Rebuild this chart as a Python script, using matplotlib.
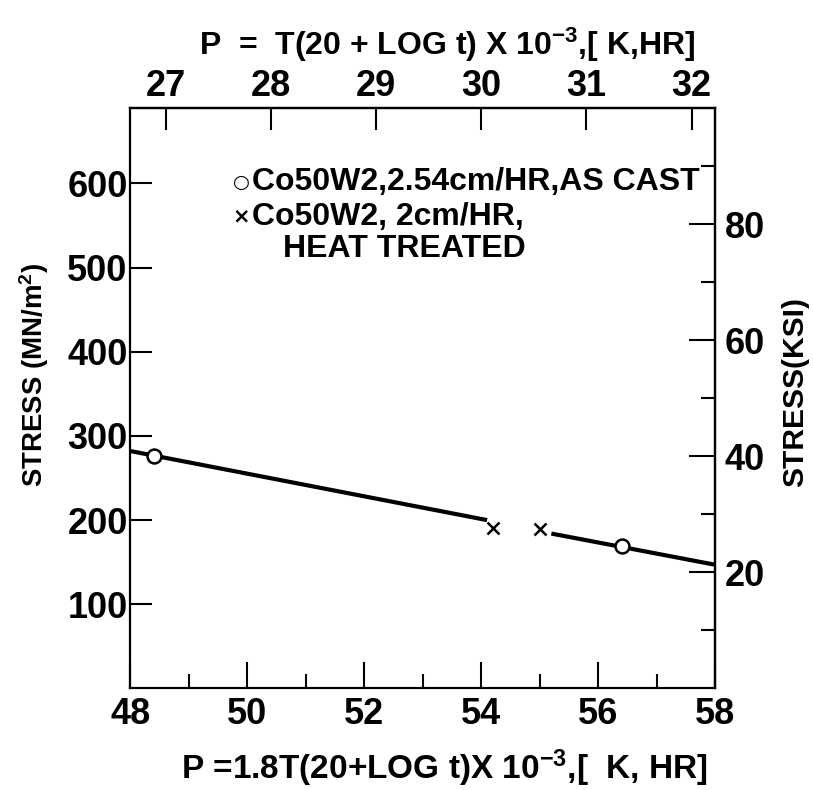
import matplotlib
matplotlib.use("Agg")
import numpy as np
from matplotlib import pyplot as plt
from matplotlib import font_manager
from matplotlib.ticker import FixedLocator

plt.rcParams['font.family'] = ['Liberation Sans', 'DejaVu Sans']
plt.rcParams['font.weight'] = 'bold'
plt.rcParams['axes.labelweight'] = 'bold'
plt.rcParams['mathtext.fontset'] = 'custom'
plt.rcParams['mathtext.rm'] = 'Liberation Sans:bold'
plt.rcParams['mathtext.bf'] = 'Liberation Sans:bold'
plt.rcParams['mathtext.default'] = 'rm'

installed = {f.name for f in font_manager.fontManager.ttflist}
if 'Liberation Sans Narrow' in installed:
    narrow, narrow_scale = 'Liberation Sans Narrow', 1.0
else:
    narrow, narrow_scale = 'Liberation Sans', 0.83

# data (P in 1.8T units, stress in MN/m2)
cast_p = [48.4, 56.4]
cast_s = [276, 169]
ht_p = [54.2, 55.0]
ht_s = [191, 190]
fit1_p = [48.0, 54.1]
fit1_s = [282, 200]
fit2_p = [55.2, 58.0]
fit2_s = [184, 147]

bottom_ticks = [48, 50, 52, 54, 56, 58]
bottom_minor = [49, 51, 53, 55, 57]
left_ticks = [100, 200, 300, 400, 500, 600]
top_ticks = [27, 28, 29, 30, 31, 32]
right_ticks = [20, 40, 60, 80]
right_minor = [10, 30, 50, 70, 90]

MN_PER_KSI = 6.895

fig = plt.figure(figsize=(8.13, 7.9), dpi=100)
ax = fig.add_axes([0.1605, 0.1285, 0.719, 0.7348])

ax.plot(fit1_p, fit1_s, color='k', lw=3, solid_capstyle='butt')
ax.plot(fit2_p, fit2_s, color='k', lw=3, solid_capstyle='butt')
ax.plot(cast_p, cast_s, 'o', ms=10, mfc='white', mec='k', mew=1.8)
ax.plot(ht_p, ht_s, 'x', ms=8, mec='k', mew=1.8)

ax.set_xlim(48, 58)
ax.set_ylim(0, 100 * MN_PER_KSI)

for s in ax.spines.values():
    s.set_linewidth(1.6)

ax.xaxis.set_major_locator(FixedLocator(bottom_ticks))
ax.xaxis.set_minor_locator(FixedLocator(bottom_minor))
ax.yaxis.set_major_locator(FixedLocator(left_ticks))
ax.tick_params(axis='x', which='major', direction='in', length=19, width=1.5,
               labelsize=26, pad=6, top=False)
ax.tick_params(axis='x', which='minor', direction='in', length=10, width=1.5, top=False)
ax.tick_params(axis='y', which='major', direction='in', length=16, width=1.5,
               labelsize=26, pad=2, right=False)
ax.tick_params(axis='y', which='minor', left=False, right=False)

top = ax.secondary_xaxis('top', functions=(lambda p: p / 1.8, lambda k: k * 1.8))
top.xaxis.set_major_locator(FixedLocator(top_ticks))
top.tick_params(direction='in', length=16, width=1.5, labelsize=26, pad=3)
top.spines['top'].set_linewidth(1.6)

right = ax.secondary_yaxis('right', functions=(lambda s: s / MN_PER_KSI,
                                               lambda k: k * MN_PER_KSI))
right.yaxis.set_major_locator(FixedLocator(right_ticks))
right.yaxis.set_minor_locator(FixedLocator(right_minor))
right.tick_params(which='major', direction='in', length=19, width=1.5, labelsize=26, pad=7)
right.tick_params(which='minor', direction='in', length=10, width=1.5)
right.spines['right'].set_linewidth(1.6)

# axis titles
ax.text(-0.165, 0.54, r'STRESS (MN/m$^2$)', transform=ax.transAxes,
        fontsize=24 * narrow_scale, family=[narrow, 'DejaVu Sans'],
        rotation=90, ha='center', va='center')
ax.text(1.137, 0.511, 'STRESS(KSI)', transform=ax.transAxes,
        fontsize=26 * narrow_scale, family=[narrow, 'DejaVu Sans'],
        rotation=90, ha='center', va='center')
fig.text(0.547, 0.028, r'P =1.8T(20+LOG t)X 10$^{-3}$,[  K, HR]', fontsize=24,
         ha='center', va='center')
fig.text(0.55, 0.943, r'P  =  T(20 + LOG t) X 10$^{-3}$,[ K,HR]', fontsize=23,
         ha='center', va='center')

# key
ax.text(0.19, 0.872, '○', transform=ax.transAxes, fontsize=14, ha='center',
        va='center', family=['DejaVu Sans'])
ax.text(0.208, 0.872, 'Co50W2,2.54cm/HR,AS CAST', transform=ax.transAxes,
        fontsize=23, va='center')
ax.text(0.19, 0.813, '×', transform=ax.transAxes, fontsize=15, ha='center',
        va='center', family=['DejaVu Sans'])
ax.text(0.208, 0.813, 'Co50W2, 2cm/HR,', transform=ax.transAxes,
        fontsize=23, va='center')
ax.text(0.261, 0.757, 'HEAT TREATED', transform=ax.transAxes,
        fontsize=23, va='center')

fig.savefig('out.png', dpi=100)
